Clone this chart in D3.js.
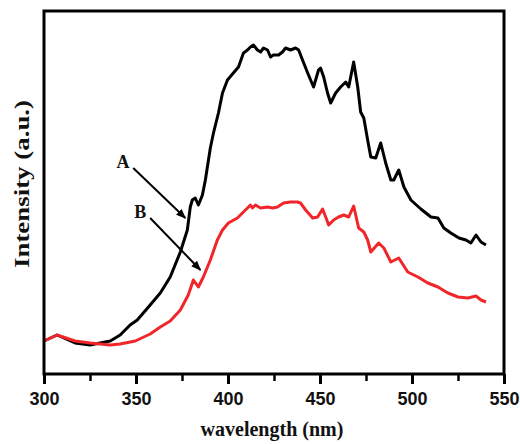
<!DOCTYPE html>
<html>
<head>
<meta charset="utf-8">
<script src="https://cdn.jsdelivr.net/npm/d3@7"></script>
<style>
  body { margin: 0; background: #fff; }
  svg { display: block; }
  .tick text { font-family: "Liberation Sans", Arial, sans-serif; font-weight: bold; font-size: 18px; fill: #111; }
  .title { font-family: "Liberation Serif", "Times New Roman", serif; font-weight: bold; fill: #111; }
</style>
</head>
<body>
<div id="chart"></div>
<script>
// wavelength (nm) and intensity (a.u.)
const wavelengthA = [300, 307.1, 316.9, 325.1, 330.5, 336, 341.4, 346.8, 350.7, 357.7, 363.2, 368.6, 374.1, 377.9, 379.5, 380.6, 382.2, 383.9, 386.1, 387.7, 390.4, 392.1, 394.8, 397, 399.7, 402.9, 405.7, 408.4, 410.6, 412.2, 413.8, 416, 417.7, 419.3, 421.5, 423.1, 424.7, 427.5, 429.6, 431.3, 434, 436.7, 438.4, 440.5, 443.3, 444.9, 446.5, 449.2, 450.3, 452, 454.1, 455.8, 458.5, 461.2, 464, 465.6, 468.3, 470.5, 472.1, 473.8, 475.9, 477.6, 480.3, 483, 485.7, 488.5, 490.1, 492.8, 495.6, 499.4, 504.8, 510.3, 514.1, 517.3, 521.1, 525.5, 529.3, 532, 534.8, 537.5, 540.2];
const intensityA = [33, 39, 31, 29, 31, 33, 39, 49, 54, 69, 81, 97, 122, 144, 167, 174, 176, 169, 179, 194, 226, 241, 261, 281, 294, 301, 307, 321, 324, 327, 329, 324, 322, 326, 324, 317, 319, 319, 322, 326, 324, 326, 324, 314, 301, 294, 287, 304, 306, 297, 281, 271, 281, 287, 292, 287, 312, 287, 262, 256, 234, 217, 216, 231, 211, 194, 194, 204, 187, 174, 165, 157, 156, 146, 141, 136, 134, 131, 139, 132, 129];

const wavelengthB = [300, 307.1, 316.9, 325.1, 336, 341.4, 349.6, 357.7, 363.2, 368.6, 374.1, 378.4, 381.2, 383.9, 386.6, 390.4, 394.2, 397, 400.2, 405.1, 410.6, 412.2, 413.3, 414.9, 417.7, 421.5, 424.2, 426.9, 430.2, 434, 437.8, 439.4, 442.2, 446, 448.7, 451.4, 453.1, 454.7, 457.4, 460.1, 462.9, 465.6, 468.3, 471, 473.8, 475.9, 477.6, 481.9, 484.7, 488.5, 492.8, 497.7, 503.2, 508.6, 514.1, 519.5, 525, 530.4, 534.8, 537.5, 540.2];
const intensityB = [33, 39, 33, 31, 29, 30, 33, 40, 47, 53, 64, 79, 94, 87, 97, 114, 134, 144, 151, 156, 166, 169, 166, 169, 166, 167, 166, 167, 171, 172, 172, 171, 164, 156, 157, 165, 157, 149, 154, 157, 159, 157, 168, 146, 142, 134, 122, 131, 126, 112, 116, 102, 97, 91, 87, 81, 77, 76, 78, 74, 72];

const majorTicks = [300, 350, 400, 450, 500, 550];
const minorTicks = [325, 375, 425, 475, 525];

// annotations: label position and arrow [start, tip] in data units
const labels = [
  {text: "A", at: [343, 212], from: [348.5, 206], to: [376.8, 156]},
  {text: "B", at: [352.3, 162], from: [357.7, 156], to: [385, 104]}
];

const margin = {top: 11, right: 16, bottom: 70, left: 44};
const W = 520, H = 444;
const width = W - margin.left - margin.right;
const height = H - margin.top - margin.bottom;

const svg = d3.select("#chart").append("svg")
  .attr("width", W)
  .attr("height", H);

const defs = svg.append("defs");
defs.append("marker")
  .attr("id", "arrow")
  .attr("viewBox", "0 0 10 10")
  .attr("refX", 9).attr("refY", 5)
  .attr("markerWidth", 5).attr("markerHeight", 5)
  .attr("markerUnits", "strokeWidth")
  .attr("orient", "auto")
  .append("path")
  .attr("d", "M0,1 L10,5 L0,9 Z")
  .attr("fill", "#000");

const g = svg.append("g")
  .attr("transform", `translate(${margin.left},${margin.top})`);

const x = d3.scaleLinear().domain([300, 550]).range([0, width]);
const y = d3.scaleLinear().domain([0, 363]).range([height, 0]);

// minor ticks
g.append("g")
  .attr("transform", `translate(0,${height})`)
  .call(d3.axisBottom(x).tickValues(minorTicks).tickSize(7).tickFormat(""))
  .call(s => s.select(".domain").remove())
  .call(s => s.selectAll("line").attr("stroke", "#000").attr("stroke-width", 2.5));

// major ticks
g.append("g")
  .attr("transform", `translate(0,${height})`)
  .call(d3.axisBottom(x).tickValues(majorTicks).tickSize(10).tickPadding(8).tickFormat(d3.format("d")))
  .call(s => s.select(".domain").remove())
  .call(s => s.selectAll("line").attr("stroke", "#000").attr("stroke-width", 3));

const line = d3.line()
  .x(d => x(d[0]))
  .y(d => y(d[1]));

g.append("path")
  .datum(d3.zip(wavelengthA, intensityA))
  .attr("fill", "none")
  .attr("stroke", "#000")
  .attr("stroke-width", 3)
  .attr("stroke-linejoin", "round")
  .attr("d", line);

g.append("path")
  .datum(d3.zip(wavelengthB, intensityB))
  .attr("fill", "none")
  .attr("stroke", "#f0262a")
  .attr("stroke-width", 3)
  .attr("stroke-linejoin", "round")
  .attr("d", line);

// frame
g.append("rect")
  .attr("width", width)
  .attr("height", height)
  .attr("fill", "none")
  .attr("stroke", "#000")
  .attr("stroke-width", 3);

// arrows + labels
labels.forEach(l => {
  g.append("line")
    .attr("x1", x(l.from[0])).attr("y1", y(l.from[1]))
    .attr("x2", x(l.to[0])).attr("y2", y(l.to[1]))
    .attr("stroke", "#000")
    .attr("stroke-width", 2)
    .attr("marker-end", "url(#arrow)");
  g.append("text")
    .attr("class", "title")
    .attr("x", x(l.at[0]))
    .attr("y", y(l.at[1]))
    .attr("text-anchor", "middle")
    .attr("dy", "0.35em")
    .attr("font-size", 18)
    .text(l.text);
});

// axis titles
svg.append("text")
  .attr("class", "title")
  .attr("x", 272)
  .attr("y", 436)
  .attr("text-anchor", "middle")
  .attr("font-size", 20)
  .text("wavelength (nm)");

svg.append("text")
  .attr("class", "title")
  .attr("transform", "translate(29,184) rotate(-90)")
  .attr("text-anchor", "middle")
  .attr("font-size", 21)
  .attr("textLength", 168)
  .attr("lengthAdjust", "spacingAndGlyphs")
  .text("Intensity (a.u.)");
</script>
</body>
</html>
